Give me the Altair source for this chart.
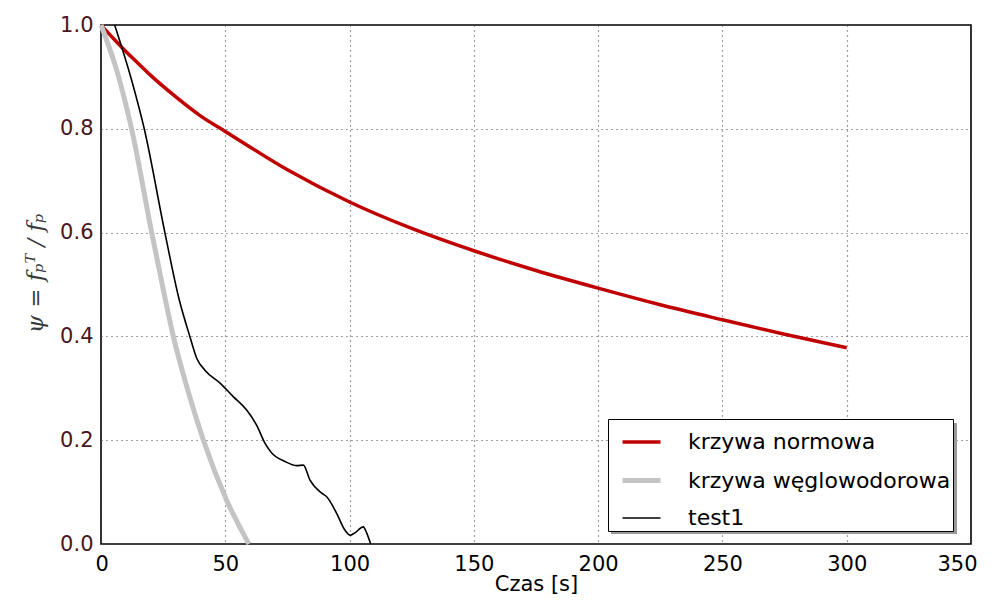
import altair as alt
import pandas as pd

series_names = ["krzywa normowa", "krzywa węglowodorowa", "test1"]
series_colors = ["#c00000", "#c4c4c4", "#000000"]
series_widths = [3.5, 5.0, 1.6]

norm_t = [0, 5, 10, 15, 20, 30, 40, 50, 75, 100, 125, 150, 175, 200, 225, 250, 275, 300]
norm_psi = [1.0, 0.974, 0.949, 0.926, 0.903, 0.862, 0.825, 0.795, 0.721, 0.659, 0.608, 0.565, 0.527,
            0.493, 0.461, 0.432, 0.404, 0.378]

hc_t = [0, 6.3, 12.3, 20.4, 25.7, 29.1, 35, 41.2, 50.5, 59.5]
hc_psi = [1.0, 0.913, 0.8, 0.6, 0.475, 0.4, 0.295, 0.2, 0.085, 0.0]

test_t = [5.5, 12.3, 17.4, 25.7, 31.5, 35.8, 38.5, 41.8, 47.9, 53.2, 58.6, 62.6, 66.0, 68.6,
          74.0, 78.7, 81.4, 84.1, 88.8, 90.8, 94.8, 98.1, 100.2, 102.0, 105.5, 106.9, 108.5]
test_psi = [1.0, 0.894, 0.8, 0.6, 0.47, 0.399, 0.358, 0.335, 0.31, 0.284, 0.258, 0.229, 0.194, 0.176,
            0.159, 0.151, 0.152, 0.123, 0.098, 0.091, 0.059, 0.027, 0.017, 0.021, 0.033, 0.021, 0.0]

x_ticks = [0, 50, 100, 150, 200, 250, 300, 350]
y_ticks = [0.0, 0.2, 0.4, 0.6, 0.8, 1.0]

frames = []
for name, ts, ps in [(series_names[0], norm_t, norm_psi),
                     (series_names[1], hc_t, hc_psi),
                     (series_names[2], test_t, test_psi)]:
    frames.append(pd.DataFrame({"t": ts, "psi": ps, "series": name}))
df = pd.concat(frames, ignore_index=True)

FONT = "DejaVu Sans"

legend = alt.Legend(
    orient="none", legendX=507, legendY=394, title=None,
    labelFont=FONT, labelFontSize=22, labelColor="black", labelOffset=25, labelLimit=500,
    symbolType="stroke", symbolSize=1444, symbolOffset=10, padding=2, rowPadding=6,
    strokeColor="black", fillColor="white", cornerRadius=0,
)

x_enc = alt.X("t:Q", scale=alt.Scale(domain=[0, 350], nice=False),
              axis=alt.Axis(values=x_ticks, title="Czas [s]", labelFlush=True, labelFlushOffset=6,
                            labelFont=FONT, labelFontSize=21, labelColor="black",
                            titleFont=FONT, titleFontSize=21, titleFontWeight="normal",
                            titleColor="black", labelPadding=9, titlePadding=-1,
                            grid=True, gridDash=[1, 4], gridColor="#444", gridWidth=1.2,
                            ticks=False, domain=False))
y_enc = alt.Y("psi:Q", scale=alt.Scale(domain=[0, 1], nice=False),
              axis=alt.Axis(values=y_ticks, format=".1f", title="ψ = fₚᵀ / fₚ",
                            labelFont=FONT, labelFontSize=21, labelColor="#4a1520",
                            labelPadding=8, titleFont="DejaVu Serif", titleFontStyle="italic",
                            titleFontWeight="normal", titleFontSize=23, titleColor="#3a3a3a",
                            titleAngle=-90, titleX=-66, titleY=248, titleAlign="center",
                            titleBaseline="middle",
                            grid=True, gridDash=[1, 4], gridColor="#444", gridWidth=1.2,
                            ticks=False, domain=False))
color_enc = alt.Color("series:N", scale=alt.Scale(domain=series_names, range=series_colors), legend=legend)
width_enc = alt.StrokeWidth("series:O", scale=alt.Scale(type="ordinal", domain=series_names, range=series_widths),
                            legend=legend)

shadow = alt.Chart(pd.DataFrame({"a": [0]})).mark_rect(color="#9a9a9a").encode(
    x=alt.value(510), x2=alt.value(856), y=alt.value(398), y2=alt.value(509))

layers = []
for name in series_names:
    layers.append(
        alt.Chart(df).transform_filter(alt.datum.series == name)
        .mark_line(interpolate="monotone", strokeCap="butt")
        .encode(x=x_enc, y=y_enc, color=color_enc, strokeWidth=width_enc)
    )

chart = alt.layer(shadow, *layers).properties(
    width=870, height=519,
    autosize=alt.AutoSizeParams(type="none"),
    padding={"left": 93, "top": 17, "right": 13, "bottom": 51},
    background="white",
).configure_view(stroke="black", strokeWidth=1.6)

chart.save("out.html", embed_options={"renderer": "svg", "actions": False})
